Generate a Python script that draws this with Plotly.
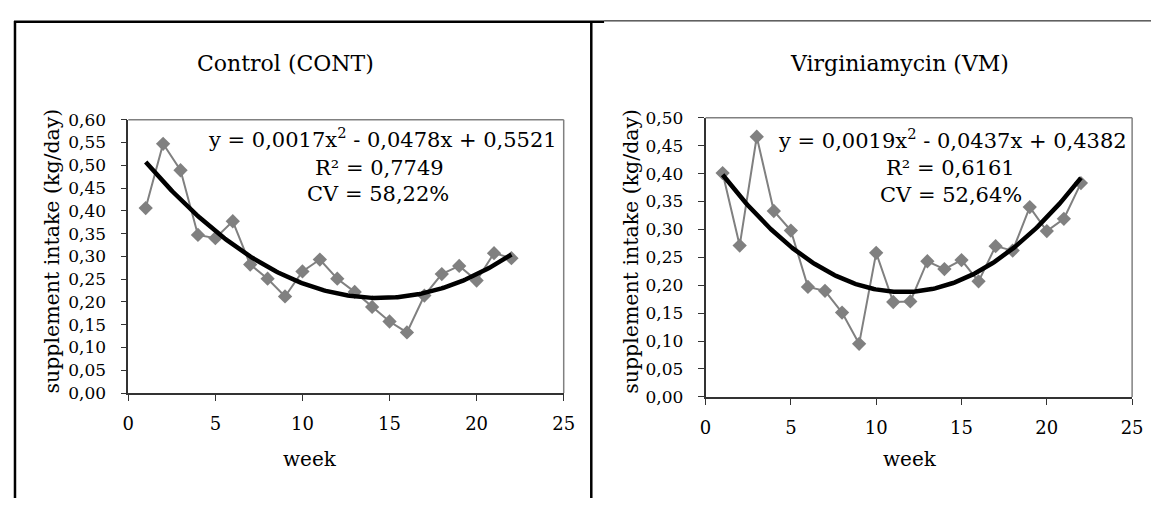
import numpy as np
import plotly.graph_objects as go

# The page body keeps its default 8 px margin, so the figure is made 16 px
# smaller than the window and positioned with an 8 px offset.
IMG_W, IMG_H = 1159, 506
PAD = 8
W, H = IMG_W - 2 * PAD, IMG_H - 2 * PAD

weeks = list(range(1, 23))
cont_intake = [0.406, 0.547, 0.489, 0.347, 0.340, 0.377, 0.282, 0.251, 0.212, 0.267, 0.293,
               0.251, 0.222, 0.189, 0.157, 0.133, 0.214, 0.261, 0.279, 0.247, 0.307, 0.296]
vm_intake = [0.401, 0.271, 0.466, 0.333, 0.298, 0.197, 0.190, 0.151, 0.095, 0.258, 0.170,
             0.171, 0.243, 0.229, 0.245, 0.207, 0.270, 0.262, 0.340, 0.297, 0.319, 0.383]

titles = ["Control (CONT)", "Virginiamycin (VM)"]
equations = ["y = 0,0017x<sup>2</sup> - 0,0478x + 0,5521", "y = 0,0019x<sup>2</sup> - 0,0437x + 0,4382"]
r2_labels = ["R² = 0,7749", "R² = 0,6161"]
cv_labels = ["CV = 58,22%", "CV = 52,64%"]
y_max = [0.60, 0.50]
x_title = "week"
y_title = "supplement intake (kg/day)"

FONT = "DejaVu Serif"
GRAY = "#808080"


def px(x):
    return (x - PAD) / W


def py(y):
    return 1 - (y - PAD) / H


fig = go.Figure()

series = [cont_intake, vm_intake]
for i, vals in enumerate(series):
    xa = "x" if i == 0 else "x2"
    ya = "y" if i == 0 else "y2"
    fig.add_trace(go.Scatter(
        x=weeks, y=vals, mode="lines+markers", xaxis=xa, yaxis=ya,
        line=dict(color=GRAY, width=2),
        marker=dict(symbol="diamond", size=11, color=GRAY),
        showlegend=False, cliponaxis=False, hoverinfo="skip"))
    coef = np.polyfit(weeks, vals, 2)
    xs = np.linspace(weeks[0], weeks[-1], 200)
    fig.add_trace(go.Scatter(
        x=xs, y=np.polyval(coef, xs), mode="lines", xaxis=xa, yaxis=ya,
        line=dict(color="black", width=4.5),
        showlegend=False, cliponaxis=False, hoverinfo="skip"))

# plot area pixel boxes in image coordinates: (left, right, top, bottom)
boxes = [(124, 566, 114, 399), (710, 1143, 112, 403)]

axis_common = dict(showgrid=False, zeroline=False, showline=True, linecolor="#333333",
                   linewidth=1.5, ticks="outside", ticklen=6, tickcolor="#333333",
                   tickwidth=1.2, tickfont=dict(family=FONT, size=17, color="black"))

layout = dict(
    width=W, height=H, margin=dict(l=0, r=0, t=0, b=0),
    paper_bgcolor="white", plot_bgcolor="white", separators=",.",
    showlegend=False,
)
for i, (l, r, t, b) in enumerate(boxes):
    sfx = "" if i == 0 else "2"
    layout["xaxis" + sfx] = dict(axis_common, domain=[px(l), px(r)], range=[0, 25], dtick=5,
                                 tickformat="d", anchor="y" + sfx, ticklabelstandoff=8,
                                 tickfont=dict(family=FONT, size=18, color="black"))
    layout["yaxis" + sfx] = dict(axis_common, domain=[py(b), py(t)], range=[0, y_max[i]],
                                 dtick=0.05, tickformat=".2f", anchor="x" + sfx,
                                 ticklabelstandoff=11)
fig.update_layout(**layout)

shapes = []
for (l, r, t, b) in boxes:
    shapes.append(dict(type="line", xref="paper", yref="paper", x0=px(l), x1=px(r), y0=py(t), y1=py(t),
                       line=dict(color=GRAY, width=1.5)))
    shapes.append(dict(type="line", xref="paper", yref="paper", x0=px(r), x1=px(r), y0=py(t), y1=py(b),
                       line=dict(color=GRAY, width=1.5)))
# outer frame
shapes.append(dict(type="line", xref="paper", yref="paper", x0=px(9), x1=px(9), y0=py(11), y1=py(520),
                   line=dict(color="black", width=2.5)))
shapes.append(dict(type="line", xref="paper", yref="paper", x0=px(8), x1=px(607), y0=py(12), y1=py(12),
                   line=dict(color="black", width=2.5)))
shapes.append(dict(type="line", xref="paper", yref="paper", x0=px(607), x1=px(1170), y0=py(11), y1=py(11),
                   line=dict(color="black", width=1)))
shapes.append(dict(type="line", xref="paper", yref="paper", x0=px(594), x1=px(594), y0=py(12), y1=py(520),
                   line=dict(color="black", width=2.5)))
fig.update_layout(shapes=shapes)

anns = []


def ann(text, x, y, size, angle=0):
    anns.append(dict(text=text, x=px(x), y=py(y), xref="paper", yref="paper",
                     xanchor="center", yanchor="middle", showarrow=False, textangle=angle,
                     font=dict(family=FONT, size=size, color="black")))


title_pos = [(284, 55), (907, 55)]
ytitle_pos = [(47, 251), (634, 251)]
xtitle_pos = [(308, 468), (918, 468)]
eq_pos = [[(382, 133), (379, 164), (377, 192)], [(961, 134), (959, 164), (959, 193)]]

for i in range(2):
    ann(titles[i], *title_pos[i], 22)
    ann(y_title, *ytitle_pos[i], 20.5, angle=-90)
    ann(x_title, *xtitle_pos[i], 20)
    ann(equations[i], *eq_pos[i][0], 21)
    ann(r2_labels[i], *eq_pos[i][1], 21)
    ann(cv_labels[i], *eq_pos[i][2], 21)

fig.update_layout(annotations=anns)

fig.write_html("out.html", config={"displayModeBar": False})
